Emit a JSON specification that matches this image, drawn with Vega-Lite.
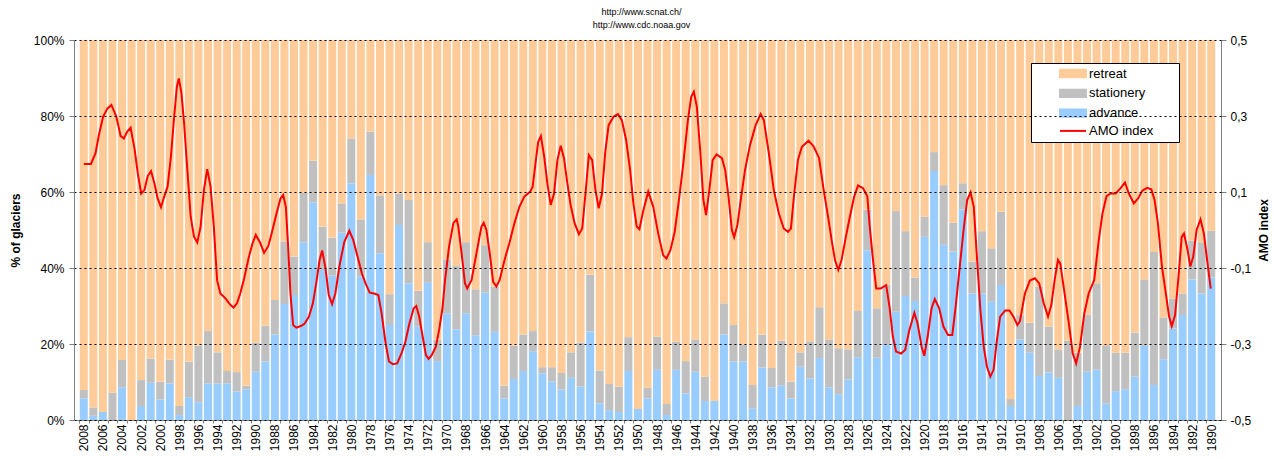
{
  "$schema": "https://vega.github.io/schema/vega-lite/v6.json",
  "width": 1147,
  "height": 380,
  "autosize": {"type": "none"},
  "padding": {"left": 74, "top": 40, "right": 55, "bottom": 39},
  "background": "white",
  "config": {"view": {"stroke": null}, "font": "Liberation Sans"},
  "title": {"text": ["http://www.scnat.ch/", "http://www.cdc.noaa.gov"], "anchor": "middle", "fontSize": 9, "fontWeight": "normal", "font": "Liberation Sans", "color": "black", "lineHeight": 13, "offset": 4, "dx": -6},
  "datasets": {
    "bars": [
      {"year":2008,"advance":5.7,"stationery":2.2,"retreat":92.1},
      {"year":2007,"advance":1.1,"stationery":2.2,"retreat":96.7},
      {"year":2006,"advance":2.1,"stationery":0,"retreat":97.9},
      {"year":2005,"advance":0,"stationery":7.2,"retreat":92.8},
      {"year":2004,"advance":8.6,"stationery":7.2,"retreat":84.2},
      {"year":2003,"advance":0,"stationery":0,"retreat":100},
      {"year":2002,"advance":3.7,"stationery":6.8,"retreat":89.5},
      {"year":2001,"advance":9.8,"stationery":6.4,"retreat":83.8},
      {"year":2000,"advance":5.4,"stationery":4.7,"retreat":89.9},
      {"year":1999,"advance":9.6,"stationery":6.3,"retreat":84.1},
      {"year":1998,"advance":1.3,"stationery":2.4,"retreat":96.3},
      {"year":1997,"advance":6.0,"stationery":9.3,"retreat":84.7},
      {"year":1996,"advance":4.7,"stationery":14.9,"retreat":80.4},
      {"year":1995,"advance":9.6,"stationery":13.8,"retreat":76.6},
      {"year":1994,"advance":9.6,"stationery":8.2,"retreat":82.2},
      {"year":1993,"advance":9.6,"stationery":3.3,"retreat":87.1},
      {"year":1992,"advance":7.5,"stationery":5.1,"retreat":87.4},
      {"year":1991,"advance":8.1,"stationery":0.9,"retreat":91.0},
      {"year":1990,"advance":12.7,"stationery":7.7,"retreat":79.6},
      {"year":1989,"advance":15.4,"stationery":9.4,"retreat":75.2},
      {"year":1988,"advance":22.5,"stationery":9.1,"retreat":68.4},
      {"year":1987,"advance":30.5,"stationery":16.5,"retreat":53.0},
      {"year":1986,"advance":32.9,"stationery":10.1,"retreat":57.0},
      {"year":1985,"advance":46.8,"stationery":13.0,"retreat":40.2},
      {"year":1984,"advance":57.3,"stationery":10.9,"retreat":31.8},
      {"year":1983,"advance":39.5,"stationery":11.4,"retreat":49.1},
      {"year":1982,"advance":38.0,"stationery":10.0,"retreat":52.0},
      {"year":1981,"advance":49.3,"stationery":7.7,"retreat":43.0},
      {"year":1980,"advance":62.3,"stationery":11.8,"retreat":25.9},
      {"year":1979,"advance":37.8,"stationery":15.0,"retreat":47.2},
      {"year":1978,"advance":64.5,"stationery":11.4,"retreat":24.1},
      {"year":1977,"advance":43.9,"stationery":15.2,"retreat":40.9},
      {"year":1976,"advance":25.0,"stationery":8.1,"retreat":66.9},
      {"year":1975,"advance":51.3,"stationery":8.3,"retreat":40.4},
      {"year":1974,"advance":36.0,"stationery":21.9,"retreat":42.1},
      {"year":1973,"advance":24.6,"stationery":9.4,"retreat":66.0},
      {"year":1972,"advance":36.1,"stationery":10.7,"retreat":53.2},
      {"year":1971,"advance":15.5,"stationery":5.6,"retreat":78.9},
      {"year":1970,"advance":28.1,"stationery":14.2,"retreat":57.7},
      {"year":1969,"advance":23.9,"stationery":16.6,"retreat":59.5},
      {"year":1968,"advance":28.1,"stationery":18.7,"retreat":53.2},
      {"year":1967,"advance":22.3,"stationery":12.1,"retreat":65.6},
      {"year":1966,"advance":33.5,"stationery":12.5,"retreat":54.0},
      {"year":1965,"advance":23.2,"stationery":11.9,"retreat":64.9},
      {"year":1964,"advance":5.7,"stationery":3.3,"retreat":91.0},
      {"year":1963,"advance":10.8,"stationery":8.8,"retreat":80.4},
      {"year":1962,"advance":12.9,"stationery":9.6,"retreat":77.5},
      {"year":1961,"advance":18.1,"stationery":5.3,"retreat":76.6},
      {"year":1960,"advance":12.3,"stationery":1.6,"retreat":86.1},
      {"year":1959,"advance":10.1,"stationery":3.8,"retreat":86.1},
      {"year":1958,"advance":8.0,"stationery":4.4,"retreat":87.6},
      {"year":1957,"advance":11.1,"stationery":6.7,"retreat":82.2},
      {"year":1956,"advance":8.8,"stationery":11.6,"retreat":79.6},
      {"year":1955,"advance":23.3,"stationery":14.9,"retreat":61.8},
      {"year":1954,"advance":4.4,"stationery":8.6,"retreat":87.0},
      {"year":1953,"advance":2.6,"stationery":6.9,"retreat":90.5},
      {"year":1952,"advance":2.1,"stationery":6.7,"retreat":91.2},
      {"year":1951,"advance":12.9,"stationery":8.9,"retreat":78.2},
      {"year":1950,"advance":2.9,"stationery":0,"retreat":97.1},
      {"year":1949,"advance":5.7,"stationery":2.8,"retreat":91.5},
      {"year":1948,"advance":13.2,"stationery":8.7,"retreat":78.1},
      {"year":1947,"advance":1.3,"stationery":2.9,"retreat":95.8},
      {"year":1946,"advance":13.2,"stationery":7.4,"retreat":79.4},
      {"year":1945,"advance":7.0,"stationery":8.5,"retreat":84.5},
      {"year":1944,"advance":12.7,"stationery":8.5,"retreat":78.8},
      {"year":1943,"advance":5.0,"stationery":6.4,"retreat":88.6},
      {"year":1942,"advance":5.0,"stationery":0,"retreat":95.0},
      {"year":1941,"advance":22.5,"stationery":8.2,"retreat":69.3},
      {"year":1940,"advance":15.4,"stationery":9.6,"retreat":75.0},
      {"year":1939,"advance":15.4,"stationery":4.5,"retreat":80.1},
      {"year":1938,"advance":3.1,"stationery":6.1,"retreat":90.8},
      {"year":1937,"advance":13.8,"stationery":8.7,"retreat":77.5},
      {"year":1936,"advance":8.6,"stationery":5.1,"retreat":86.3},
      {"year":1935,"advance":9.1,"stationery":11.8,"retreat":79.1},
      {"year":1934,"advance":5.7,"stationery":4.4,"retreat":89.9},
      {"year":1933,"advance":14.0,"stationery":3.8,"retreat":82.2},
      {"year":1932,"advance":10.9,"stationery":9.8,"retreat":79.3},
      {"year":1931,"advance":16.3,"stationery":13.4,"retreat":70.3},
      {"year":1930,"advance":8.6,"stationery":12.6,"retreat":78.8},
      {"year":1929,"advance":6.8,"stationery":12.1,"retreat":81.1},
      {"year":1928,"advance":10.7,"stationery":7.9,"retreat":81.4},
      {"year":1927,"advance":16.5,"stationery":12.2,"retreat":71.3},
      {"year":1926,"advance":44.7,"stationery":10.6,"retreat":44.7},
      {"year":1925,"advance":16.4,"stationery":13.0,"retreat":70.6},
      {"year":1924,"advance":19.7,"stationery":15.8,"retreat":64.5},
      {"year":1923,"advance":28.5,"stationery":26.5,"retreat":45.0},
      {"year":1922,"advance":32.6,"stationery":17.1,"retreat":50.3},
      {"year":1921,"advance":31.3,"stationery":6.2,"retreat":62.5},
      {"year":1920,"advance":48.2,"stationery":5.3,"retreat":46.5},
      {"year":1919,"advance":65.5,"stationery":5.0,"retreat":29.5},
      {"year":1918,"advance":46.1,"stationery":15.7,"retreat":38.2},
      {"year":1917,"advance":44.3,"stationery":7.6,"retreat":48.1},
      {"year":1916,"advance":55.4,"stationery":6.9,"retreat":37.7},
      {"year":1915,"advance":33.3,"stationery":8.4,"retreat":58.3},
      {"year":1914,"advance":33.3,"stationery":16.4,"retreat":50.3},
      {"year":1913,"advance":31.1,"stationery":14.1,"retreat":54.8},
      {"year":1912,"advance":35.5,"stationery":19.3,"retreat":45.2},
      {"year":1911,"advance":3.7,"stationery":1.8,"retreat":94.5},
      {"year":1910,"advance":21.2,"stationery":6.4,"retreat":72.4},
      {"year":1909,"advance":17.7,"stationery":7.9,"retreat":74.4},
      {"year":1908,"advance":11.6,"stationery":23.5,"retreat":64.9},
      {"year":1907,"advance":12.5,"stationery":12.1,"retreat":75.4},
      {"year":1906,"advance":11.1,"stationery":7.5,"retreat":81.4},
      {"year":1905,"advance":0,"stationery":20.9,"retreat":79.1},
      {"year":1904,"advance":3.7,"stationery":14.0,"retreat":82.3},
      {"year":1903,"advance":12.7,"stationery":14.9,"retreat":72.4},
      {"year":1902,"advance":13.2,"stationery":22.8,"retreat":64.0},
      {"year":1901,"advance":4.4,"stationery":15.1,"retreat":80.5},
      {"year":1900,"advance":7.6,"stationery":10.1,"retreat":82.3},
      {"year":1899,"advance":8.1,"stationery":9.6,"retreat":82.3},
      {"year":1898,"advance":11.4,"stationery":11.6,"retreat":77.0},
      {"year":1897,"advance":19.5,"stationery":17.5,"retreat":63.0},
      {"year":1896,"advance":9.2,"stationery":35.0,"retreat":55.8},
      {"year":1895,"advance":16.0,"stationery":11.0,"retreat":73.0},
      {"year":1894,"advance":24.1,"stationery":7.9,"retreat":68.0},
      {"year":1893,"advance":27.6,"stationery":5.7,"retreat":66.7},
      {"year":1892,"advance":37.0,"stationery":10.2,"retreat":52.8},
      {"year":1891,"advance":33.3,"stationery":13.5,"retreat":53.2},
      {"year":1890,"advance":37.5,"stationery":12.3,"retreat":50.2}
    ],
    "amo": [
      {"t":2008.0,"v":0.174},{"t":2007.25,"v":0.174},{"t":2006.77,"v":0.202},{"t":2006.42,"v":0.250},{"t":2005.98,"v":0.298},{"t":2005.52,"v":0.320},{"t":2005.11,"v":0.329},{"t":2004.59,"v":0.298},{"t":2004.14,"v":0.247},{"t":2003.80,"v":0.241},{"t":2003.45,"v":0.259},{"t":2003.10,"v":0.269},{"t":2002.69,"v":0.215},{"t":2002.35,"v":0.149},{"t":2001.99,"v":0.096},{"t":2001.65,"v":0.105},{"t":2001.31,"v":0.142},{"t":2000.96,"v":0.155},{"t":2000.61,"v":0.123},{"t":2000.27,"v":0.083},{"t":1999.92,"v":0.060},{"t":1999.58,"v":0.088},{"t":1999.23,"v":0.114},{"t":1998.88,"v":0.193},{"t":1998.54,"v":0.298},{"t":1998.26,"v":0.377},{"t":1998.05,"v":0.399},{"t":1997.78,"v":0.360},{"t":1997.50,"v":0.281},{"t":1997.16,"v":0.158},{"t":1996.81,"v":0.035},{"t":1996.46,"v":-0.018},{"t":1996.12,"v":-0.033},{"t":1995.77,"v":0.009},{"t":1995.43,"v":0.105},{"t":1995.08,"v":0.160},{"t":1994.73,"v":0.114},{"t":1994.39,"v":0.009},{"t":1994.05,"v":-0.132},{"t":1993.70,"v":-0.167},{"t":1993.18,"v":-0.180},{"t":1992.66,"v":-0.197},{"t":1992.32,"v":-0.204},{"t":1991.97,"v":-0.193},{"t":1991.62,"v":-0.167},{"t":1991.21,"v":-0.127},{"t":1990.76,"v":-0.075},{"t":1990.34,"v":-0.035},{"t":1990.00,"v":-0.013},{"t":1989.55,"v":-0.033},{"t":1989.13,"v":-0.060},{"t":1988.68,"v":-0.042},{"t":1988.34,"v":-0.009},{"t":1987.82,"v":0.044},{"t":1987.41,"v":0.083},{"t":1987.13,"v":0.092},{"t":1986.85,"v":0.061},{"t":1986.61,"v":-0.044},{"t":1986.37,"v":-0.167},{"t":1986.09,"v":-0.250},{"t":1985.75,"v":-0.257},{"t":1985.23,"v":-0.252},{"t":1984.88,"v":-0.246},{"t":1984.43,"v":-0.228},{"t":1984.02,"v":-0.193},{"t":1983.67,"v":-0.140},{"t":1983.32,"v":-0.079},{"t":1983.05,"v":-0.054},{"t":1982.70,"v":-0.101},{"t":1982.36,"v":-0.171},{"t":1982.01,"v":-0.195},{"t":1981.67,"v":-0.167},{"t":1981.25,"v":-0.096},{"t":1980.73,"v":-0.031},{"t":1980.21,"v":-0.002},{"t":1979.80,"v":-0.026},{"t":1979.35,"v":-0.070},{"t":1978.90,"v":-0.114},{"t":1978.49,"v":-0.142},{"t":1978.07,"v":-0.165},{"t":1977.62,"v":-0.167},{"t":1977.17,"v":-0.171},{"t":1976.83,"v":-0.219},{"t":1976.41,"v":-0.298},{"t":1976.06,"v":-0.346},{"t":1975.65,"v":-0.353},{"t":1975.20,"v":-0.351},{"t":1974.75,"v":-0.325},{"t":1974.34,"v":-0.294},{"t":1973.92,"v":-0.246},{"t":1973.47,"v":-0.206},{"t":1973.20,"v":-0.200},{"t":1972.89,"v":-0.228},{"t":1972.53,"v":-0.281},{"t":1972.19,"v":-0.329},{"t":1971.91,"v":-0.339},{"t":1971.57,"v":-0.329},{"t":1971.15,"v":-0.307},{"t":1970.81,"v":-0.263},{"t":1970.46,"v":-0.206},{"t":1970.19,"v":-0.132},{"t":1969.77,"v":-0.044},{"t":1969.32,"v":0.018},{"t":1968.97,"v":0.028},{"t":1968.80,"v":0.009},{"t":1968.46,"v":-0.061},{"t":1968.11,"v":-0.140},{"t":1967.87,"v":-0.154},{"t":1967.42,"v":-0.132},{"t":1966.90,"v":-0.061},{"t":1966.38,"v":0.009},{"t":1966.14,"v":0.019},{"t":1965.86,"v":0.000},{"t":1965.51,"v":-0.061},{"t":1965.16,"v":-0.136},{"t":1964.82,"v":-0.149},{"t":1964.48,"v":-0.132},{"t":1963.96,"v":-0.079},{"t":1963.44,"v":-0.033},{"t":1962.93,"v":0.018},{"t":1962.41,"v":0.061},{"t":1961.89,"v":0.088},{"t":1961.27,"v":0.101},{"t":1961.02,"v":0.114},{"t":1960.68,"v":0.184},{"t":1960.44,"v":0.232},{"t":1960.16,"v":0.247},{"t":1959.81,"v":0.193},{"t":1959.46,"v":0.118},{"t":1959.13,"v":0.066},{"t":1958.78,"v":0.096},{"t":1958.43,"v":0.184},{"t":1958.08,"v":0.222},{"t":1957.74,"v":0.189},{"t":1957.39,"v":0.123},{"t":1957.05,"v":0.066},{"t":1956.63,"v":0.018},{"t":1956.18,"v":-0.011},{"t":1955.83,"v":0.004},{"t":1955.49,"v":0.096},{"t":1955.14,"v":0.197},{"t":1954.79,"v":0.184},{"t":1954.45,"v":0.105},{"t":1954.11,"v":0.057},{"t":1953.76,"v":0.096},{"t":1953.42,"v":0.206},{"t":1953.07,"v":0.276},{"t":1952.55,"v":0.298},{"t":1952.10,"v":0.305},{"t":1951.68,"v":0.289},{"t":1951.24,"v":0.237},{"t":1950.82,"v":0.158},{"t":1950.48,"v":0.070},{"t":1950.13,"v":0.009},{"t":1949.85,"v":0.002},{"t":1949.45,"v":0.050},{"t":1948.92,"v":0.101},{"t":1948.40,"v":0.061},{"t":1947.88,"v":-0.009},{"t":1947.37,"v":-0.066},{"t":1947.02,"v":-0.075},{"t":1946.60,"v":-0.053},{"t":1946.15,"v":-0.004},{"t":1945.71,"v":0.079},{"t":1945.29,"v":0.167},{"t":1944.77,"v":0.289},{"t":1944.42,"v":0.351},{"t":1944.15,"v":0.364},{"t":1943.84,"v":0.325},{"t":1943.49,"v":0.211},{"t":1943.15,"v":0.079},{"t":1942.87,"v":0.039},{"t":1942.53,"v":0.105},{"t":1942.18,"v":0.184},{"t":1941.77,"v":0.199},{"t":1941.21,"v":0.189},{"t":1940.87,"v":0.158},{"t":1940.52,"v":0.088},{"t":1940.17,"v":0.000},{"t":1939.93,"v":-0.019},{"t":1939.59,"v":0.013},{"t":1939.24,"v":0.079},{"t":1938.79,"v":0.158},{"t":1938.27,"v":0.224},{"t":1937.68,"v":0.276},{"t":1937.16,"v":0.305},{"t":1936.82,"v":0.289},{"t":1936.30,"v":0.202},{"t":1935.78,"v":0.105},{"t":1935.26,"v":0.044},{"t":1934.74,"v":0.004},{"t":1934.30,"v":-0.005},{"t":1933.99,"v":0.004},{"t":1933.71,"v":0.079},{"t":1933.26,"v":0.184},{"t":1932.84,"v":0.219},{"t":1932.15,"v":0.235},{"t":1931.63,"v":0.221},{"t":1931.04,"v":0.189},{"t":1930.59,"v":0.110},{"t":1930.07,"v":0.030},{"t":1929.73,"v":-0.026},{"t":1929.38,"v":-0.079},{"t":1929.03,"v":-0.105},{"t":1928.69,"v":-0.079},{"t":1928.27,"v":-0.022},{"t":1927.82,"v":0.035},{"t":1927.37,"v":0.088},{"t":1926.96,"v":0.117},{"t":1926.44,"v":0.110},{"t":1925.99,"v":0.088},{"t":1925.74,"v":0.009},{"t":1925.40,"v":-0.079},{"t":1925.06,"v":-0.154},{"t":1924.60,"v":-0.154},{"t":1924.02,"v":-0.145},{"t":1923.67,"v":-0.202},{"t":1923.32,"v":-0.281},{"t":1922.98,"v":-0.320},{"t":1922.46,"v":-0.325},{"t":1922.04,"v":-0.316},{"t":1921.59,"v":-0.263},{"t":1921.07,"v":-0.218},{"t":1920.73,"v":-0.246},{"t":1920.31,"v":-0.307},{"t":1920.03,"v":-0.331},{"t":1919.68,"v":-0.281},{"t":1919.27,"v":-0.206},{"t":1918.93,"v":-0.182},{"t":1918.47,"v":-0.206},{"t":1918.03,"v":-0.254},{"t":1917.54,"v":-0.276},{"t":1917.10,"v":-0.276},{"t":1916.75,"v":-0.202},{"t":1916.30,"v":-0.092},{"t":1915.88,"v":0.009},{"t":1915.54,"v":0.079},{"t":1915.19,"v":0.099},{"t":1914.85,"v":0.061},{"t":1914.50,"v":-0.079},{"t":1914.16,"v":-0.211},{"t":1913.81,"v":-0.307},{"t":1913.47,"v":-0.360},{"t":1913.12,"v":-0.386},{"t":1912.78,"v":-0.368},{"t":1912.43,"v":-0.290},{"t":1912.09,"v":-0.228},{"t":1911.57,"v":-0.212},{"t":1911.12,"v":-0.212},{"t":1910.70,"v":-0.228},{"t":1910.29,"v":-0.250},{"t":1910.02,"v":-0.240},{"t":1909.50,"v":-0.167},{"t":1908.98,"v":-0.133},{"t":1908.46,"v":-0.127},{"t":1908.01,"v":-0.140},{"t":1907.53,"v":-0.193},{"t":1907.08,"v":-0.228},{"t":1906.73,"v":-0.197},{"t":1906.39,"v":-0.132},{"t":1906.04,"v":-0.079},{"t":1905.80,"v":-0.088},{"t":1905.35,"v":-0.167},{"t":1904.90,"v":-0.246},{"t":1904.49,"v":-0.325},{"t":1904.14,"v":-0.351},{"t":1903.73,"v":-0.307},{"t":1903.28,"v":-0.219},{"t":1902.83,"v":-0.167},{"t":1902.25,"v":-0.132},{"t":1901.79,"v":-0.031},{"t":1901.38,"v":0.044},{"t":1900.96,"v":0.089},{"t":1900.52,"v":0.096},{"t":1900.00,"v":0.096},{"t":1899.48,"v":0.110},{"t":1899.03,"v":0.125},{"t":1898.62,"v":0.096},{"t":1898.10,"v":0.070},{"t":1897.65,"v":0.083},{"t":1897.24,"v":0.103},{"t":1896.72,"v":0.111},{"t":1896.27,"v":0.107},{"t":1895.93,"v":0.079},{"t":1895.58,"v":0.018},{"t":1895.16,"v":-0.096},{"t":1894.75,"v":-0.167},{"t":1894.41,"v":-0.228},{"t":1894.13,"v":-0.253},{"t":1893.78,"v":-0.224},{"t":1893.44,"v":-0.127},{"t":1893.09,"v":-0.018},{"t":1892.85,"v":-0.009},{"t":1892.51,"v":-0.048},{"t":1892.19,"v":-0.096},{"t":1891.88,"v":-0.070},{"t":1891.53,"v":0.000},{"t":1891.12,"v":0.028},{"t":1890.77,"v":-0.009},{"t":1890.43,"v":-0.079},{"t":1890.05,"v":-0.154}
    ]
  },
  "layer": [
    {
      "data": {"name": "bars"},
      "transform": [
        {"fold": ["advance", "stationery", "retreat"], "as": ["type", "pct"]},
        {"window": [{"op": "row_number", "as": "rank"}], "groupby": ["year"]}
      ],
      "mark": {"type": "bar", "width": 8},
      "encoding": {
        "x": {
          "field": "year", "type": "quantitative",
          "scale": {"domain": [1889.5, 2008.5], "reverse": true, "nice": false, "zero": false},
          "axis": {
            "orient": "bottom",
            "title": null,
            "values": [2008,2007,2006,2005,2004,2003,2002,2001,2000,1999,1998,1997,1996,1995,1994,1993,1992,1991,1990,1989,1988,1987,1986,1985,1984,1983,1982,1981,1980,1979,1978,1977,1976,1975,1974,1973,1972,1971,1970,1969,1968,1967,1966,1965,1964,1963,1962,1961,1960,1959,1958,1957,1956,1955,1954,1953,1952,1951,1950,1949,1948,1947,1946,1945,1944,1943,1942,1941,1940,1939,1938,1937,1936,1935,1934,1933,1932,1931,1930,1929,1928,1927,1926,1925,1924,1923,1922,1921,1920,1919,1918,1917,1916,1915,1914,1913,1912,1911,1910,1909,1908,1907,1906,1905,1904,1903,1902,1901,1900,1899,1898,1897,1896,1895,1894,1893,1892,1891,1890],
            "format": "d",
            "labelExpr": "datum.value % 2 == 0 ? datum.label : ''",
            "tickOffset": -4.82,
            "labelOffset": 4.82,
            "labelAngle": 270,
            "labelAlign": "right",
            "labelBaseline": "middle",
            "labelFontSize": 12,
            "labelColor": "black",
            "labelOverlap": false,
            "labelPadding": 1,
            "tickSize": 3,
            "tickColor": "#808080",
            "domainColor": "#808080",
            "grid": false
          }
        },
        "y": {
          "field": "pct", "type": "quantitative", "stack": "zero",
          "scale": {"domain": [0, 100], "nice": false},
          "axis": {
            "title": "% of glaciers",
            "values": [0, 20, 40, 60, 80, 100],
            "labelExpr": "datum.value + '%'",
            "grid": true, "gridColor": "black", "gridDash": [2, 3], "gridOpacity": 1, "gridWidth": 1,
            "zindex": 1,
            "domainColor": "#808080", "tickColor": "#808080", "tickSize": 5,
            "labelPadding": 5, "labelFontSize": 12, "labelColor": "black",
            "titleFontSize": 12, "titleFontWeight": "bold", "titleColor": "black",
            "titleAngle": 270, "titleX": -59, "titleY": 190, "titleAlign": "center", "titleBaseline": "middle"
          }
        },
        "color": {
          "field": "type", "type": "nominal",
          "scale": {"domain": ["retreat", "stationery", "advance", "AMO index"], "range": ["#FFCC99", "#C0C0C0", "#99CCFF", "#FF0000"]},
          "legend": {
            "orient": "none", "legendX": 957, "legendY": 23,
            "title": null, "direction": "vertical",
            "fillColor": "white", "strokeColor": "black",
            "padding": 4, "rowPadding": 2.8,
            "symbolSize": 49, "symbolOffset": 31.5, "labelOffset": 9.5,
            "labelFontSize": 13, "labelFont": "Liberation Sans", "labelColor": "black",
            "labelExpr": "datum.label + '\u00a0\u00a0\u00a0\u00a0\u00a0\u00a0\u200b'",
            "symbolStrokeWidth": 2,
            "encode": {
              "symbols": {
                "update": {
                  "shape": {"signal": "datum.value === 'AMO index' ? 'M-3.7,0H3.7' : 'M-3.7,-1.05H3.7V1.05H-3.7Z'"},
                  "fill": {"signal": "datum.value === 'AMO index' ? 'transparent' : scale('color', datum.value)"},
                  "stroke": {"signal": "datum.value === 'AMO index' ? '#FF0000' : 'transparent'"},
                  "strokeWidth": {"value": 2},
                  "opacity": {"value": 1}
                }
              }
            }
          }
        },
        "order": {"field": "rank", "type": "quantitative"}
      }
    },
    {
      "data": {"name": "amo"},
      "mark": {"type": "line", "strokeWidth": 2},
      "encoding": {
        "x": {
          "field": "t", "type": "quantitative",
          "axis": {
            "orient": "bottom",
            "title": null,
            "values": [2008,2007,2006,2005,2004,2003,2002,2001,2000,1999,1998,1997,1996,1995,1994,1993,1992,1991,1990,1989,1988,1987,1986,1985,1984,1983,1982,1981,1980,1979,1978,1977,1976,1975,1974,1973,1972,1971,1970,1969,1968,1967,1966,1965,1964,1963,1962,1961,1960,1959,1958,1957,1956,1955,1954,1953,1952,1951,1950,1949,1948,1947,1946,1945,1944,1943,1942,1941,1940,1939,1938,1937,1936,1935,1934,1933,1932,1931,1930,1929,1928,1927,1926,1925,1924,1923,1922,1921,1920,1919,1918,1917,1916,1915,1914,1913,1912,1911,1910,1909,1908,1907,1906,1905,1904,1903,1902,1901,1900,1899,1898,1897,1896,1895,1894,1893,1892,1891,1890],
            "format": "d",
            "labelExpr": "datum.value % 2 == 0 ? datum.label : ''",
            "tickOffset": -4.82,
            "labelOffset": 4.82,
            "labelAngle": 270,
            "labelAlign": "right",
            "labelBaseline": "middle",
            "labelFontSize": 12,
            "labelColor": "black",
            "labelOverlap": false,
            "labelPadding": 1,
            "tickSize": 3,
            "tickColor": "#808080",
            "domainColor": "#808080",
            "grid": false
          }
        },
        "y": {
          "field": "v", "type": "quantitative",
          "scale": {"domain": [-0.5, 0.5], "nice": false, "zero": false},
          "axis": {
            "orient": "right",
            "title": "AMO index",
            "values": [-0.5, -0.3, -0.1, 0.1, 0.3, 0.5],
            "labelExpr": "(datum.value < 0 ? '-' : '') + replace(format(abs(datum.value), '.1f'), '.', ',')",
            "grid": false,
            "domainColor": "#808080", "tickColor": "#808080", "tickSize": 5,
            "labelPadding": 4, "labelFontSize": 12, "labelColor": "black",
            "titleFontSize": 12, "titleFontWeight": "bold", "titleColor": "black",
            "titleAngle": 270, "titleX": 42, "titleY": 190, "titleAlign": "center", "titleBaseline": "middle"
          }
        },
        "color": {"datum": "AMO index"}
      }
    }
  ],
  "resolve": {"scale": {"y": "independent"}}
}
